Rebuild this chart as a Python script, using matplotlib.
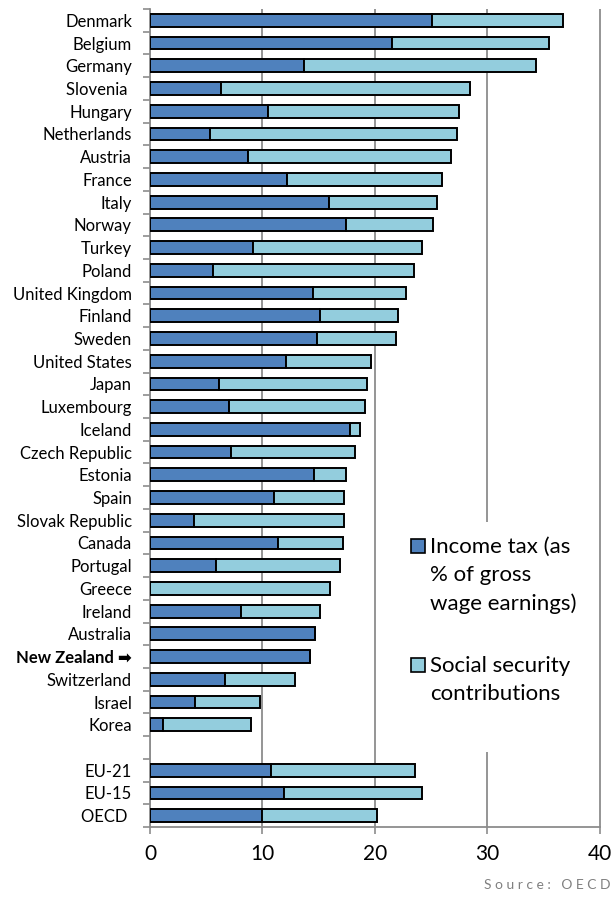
import matplotlib
matplotlib.use("Agg")
import matplotlib.pyplot as plt
from matplotlib.patches import Rectangle
import numpy as np

plt.rcParams['font.family'] = ['Lato', 'DejaVu Sans']

countries = ["Denmark", "Belgium", "Germany", "Slovenia ", "Hungary", "Netherlands",
             "Austria", "France", "Italy", "Norway", "Turkey", "Poland",
             "United Kingdom", "Finland", "Sweden", "United States", "Japan",
             "Luxembourg", "Iceland", "Czech Republic", "Estonia", "Spain",
             "Slovak Republic", "Canada", "Portugal", "Greece", "Ireland",
             "Australia", "New Zealand \u27A1", "Switzerland", "Israel", "Korea"]
income_tax = [25.1, 21.5, 13.7, 6.3, 10.5, 5.3, 8.7, 12.2, 15.9, 17.4, 9.2, 5.6,
              14.5, 15.1, 14.9, 12.1, 6.1, 7.0, 17.8, 7.2, 14.6, 11.0, 3.9, 11.4,
              5.9, 0.0, 8.1, 14.7, 14.2, 6.7, 4.0, 1.2]
social_security = [11.6, 14.0, 20.6, 22.2, 17.0, 22.0, 18.1, 13.8, 9.6, 7.8, 15.0, 17.9,
                   8.3, 7.0, 7.0, 7.6, 13.2, 12.1, 0.9, 11.0, 2.8, 6.3, 13.4, 5.8,
                   11.0, 16.0, 7.0, 0.0, 0.0, 6.2, 5.8, 7.8]

groups = ["EU-21", "EU-15", "OECD "]
group_income_tax = [10.8, 11.9, 10.0]
group_social_security = [12.8, 12.3, 10.2]

x_ticks = [0, 10, 20, 30, 40]

income_color = "#4F81BD"
social_color = "#93CDDD"
grid_color = "#8C8C8C"

labels = countries + [""] + groups
inc = np.array(income_tax + [np.nan] + group_income_tax)
soc = np.array(social_security + [np.nan] + group_social_security)
pos = np.arange(len(labels))
mask = ~np.isnan(inc)

fig = plt.figure(figsize=(6.15, 8.99), dpi=100)
ax = fig.add_axes([150 / 615, 1 - 827 / 899, 453 / 615, 818 / 899])

bar_h = 0.56
ax.barh(pos[mask], inc[mask], height=bar_h, color=income_color,
        edgecolor="black", linewidth=1.4, zorder=3)
ax.barh(pos[mask], soc[mask], left=inc[mask], height=bar_h, color=social_color,
        edgecolor="black", linewidth=1.4, zorder=3)

ax.set_xlim(0, 40.3)
ax.set_ylim(len(labels) - 0.5, -0.5)

ax.set_xticks(x_ticks)
ax.set_xticklabels([str(t) for t in x_ticks], fontsize=15)
ax.tick_params(axis="x", direction="out", length=5, width=1.2, color=grid_color, pad=7)

ax.set_yticks(pos)
ax.set_yticklabels(labels, fontsize=12)
ax.tick_params(axis="y", which="major", length=0, pad=13)
ax.set_yticks(np.arange(len(labels) + 1) - 0.5, minor=True)
ax.tick_params(axis="y", which="minor", direction="out", length=5, width=1.2, color=grid_color)
for lab in ax.get_yticklabels():
    if lab.get_text().startswith("New Zealand"):
        lab.set_fontweight("bold")

ax.grid(axis="x", color=grid_color, linewidth=1.3, zorder=0)
ax.set_axisbelow(True)
for side in ("top", "right"):
    ax.spines[side].set_visible(False)
for side in ("left", "bottom"):
    ax.spines[side].set_color(grid_color)
    ax.spines[side].set_linewidth(1.3)
ax.spines["bottom"].set_bounds(0, 40)

# Legend panel: white box over the gridlines, swatch aligned with each label's first line
def ax_x(px):
    return (px - 150) / 453

def ax_y(py):
    return (827 - py) / 818

ax.add_patch(Rectangle((ax_x(398), ax_y(752)), ax_x(592) - ax_x(398), ax_y(522) - ax_y(752),
                       transform=ax.transAxes, facecolor="white", edgecolor="none",
                       zorder=4, clip_on=False))
legend_entries = [("Income tax (as\n% of gross\nwage earnings)", income_color, 546),
                  ("Social security\ncontributions", social_color, 665)]
sw = 14
for text, color, cy in legend_entries:
    ax.add_patch(Rectangle((ax_x(411), ax_y(cy + sw / 2)), sw / 453, sw / 818,
                           transform=ax.transAxes, facecolor=color, edgecolor="black",
                           linewidth=1.2, zorder=5, clip_on=False))
    ax.text(ax_x(430), ax_y(cy - 9), text, transform=ax.transAxes, ha="left", va="top",
            fontsize=16, linespacing=1.5, zorder=6)

fig.text(610 / 615, 1 - 885 / 899, "S o u r c e :   O E C D", ha="right", va="center",
         fontsize=10, color="#808080")

fig.savefig("out.png", dpi=100)
